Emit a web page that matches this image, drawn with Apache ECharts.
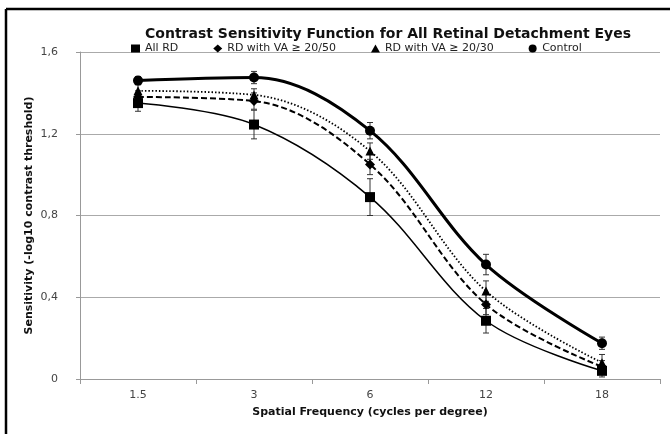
<!DOCTYPE html>
<html>
<head>
<meta charset="utf-8">
<script src="https://cdn.jsdelivr.net/npm/echarts@6/dist/echarts.min.js"></script>
<style>
html,body{margin:0;padding:0;background:#fff;}
#chart{width:670px;height:434px;}
</style>
</head>
<body>
<div id="chart"></div>
<script>
const categories = ['1.5', '3', '6', '12', '18'];
const yTicks = [0, 0.4, 0.8, 1.2, 1.6];
const seriesNames = ['All RD', 'RD with VA \u2265 20/50', 'RD with VA \u2265 20/30', 'Control'];
const allRD = [1.35, 1.245, 0.89, 0.285, 0.04];
const rd2050 = [1.38, 1.36, 1.05, 0.365, 0.06];
const rd2030 = [1.41, 1.39, 1.115, 0.43, 0.08];
const control = [1.46, 1.475, 1.215, 0.56, 0.175];
const errAllRD = [0.04, 0.07, 0.09, 0.06, 0.03];
const err2050 = [0.03, 0.04, 0.05, 0.05, 0.03];
const err2030 = [0.03, 0.03, 0.04, 0.05, 0.04];
const errControl = [0.02, 0.03, 0.04, 0.05, 0.03];

const font = 'DejaVu Sans, Verdana, sans-serif';

function errData(vals, errs) {
  return vals.map((v, i) => [i, v - errs[i], v + errs[i]]);
}
function errSeries(vals, errs) {
  return {
    type: 'custom',
    silent: true,
    z: 1,
    data: errData(vals, errs),
    renderItem: function (params, api) {
      const x = api.value(0);
      const lo = api.coord([x, api.value(1)]);
      const hi = api.coord([x, api.value(2)]);
      const w = 3;
      const st = { stroke: '#333', lineWidth: 1 };
      return {
        type: 'group',
        children: [
          { type: 'line', shape: { x1: lo[0], y1: lo[1], x2: hi[0], y2: hi[1] }, style: st },
          { type: 'line', shape: { x1: lo[0] - w, y1: lo[1], x2: lo[0] + w, y2: lo[1] }, style: st },
          { type: 'line', shape: { x1: hi[0] - w, y1: hi[1], x2: hi[0] + w, y2: hi[1] }, style: st }
        ]
      };
    }
  };
}

const chart = echarts.init(document.getElementById('chart'));
chart.setOption({
  animation: false,
  backgroundColor: '#fff',
  title: {
    text: 'Contrast Sensitivity Function for All Retinal Detachment Eyes',
    left: 383, textAlign: 'center', top: 22,
    textStyle: { fontFamily: font, fontSize: 14, fontWeight: 'bold', color: '#111' }
  },
  legend: {
    left: 126, top: 38,
    itemWidth: 9, itemHeight: 8, itemGap: 35,
    textStyle: { fontFamily: font, fontSize: 11, color: '#222' },
    data: [
      { name: seriesNames[0], icon: 'rect' },
      { name: seriesNames[1], icon: 'diamond' },
      { name: seriesNames[2], icon: 'triangle' },
      { name: seriesNames[3], icon: 'circle' }
    ]
  },
  grid: { left: 80, right: 10, top: 52, bottom: 55 },
  xAxis: {
    type: 'category',
    data: categories,
    boundaryGap: true,
    name: 'Spatial Frequency (cycles per degree)',
    nameLocation: 'middle', nameGap: 28, nameMoveOverlap: false,
    nameTextStyle: { fontFamily: font, fontSize: 11, fontWeight: 'bold', color: '#111' },
    axisLine: { lineStyle: { color: '#999', width: 1 } },
    axisTick: { show: true, length: 5, lineStyle: { color: '#999' } },
    axisLabel: { fontFamily: font, fontSize: 11, color: '#444', margin: 11 }
  },
  yAxis: {
    type: 'value', min: 0, max: 1.6, interval: 0.4,
    name: 'Sensitivity (-log10 contrast threshold)',
    nameLocation: 'middle', nameGap: 45, nameMoveOverlap: false,
    nameTextStyle: { fontFamily: font, fontSize: 11, fontWeight: 'bold', color: '#111' },
    axisLine: { show: true, lineStyle: { color: '#999' } },
    axisTick: { show: true, length: 4, inside: false, lineStyle: { color: '#999' } },
    axisLabel: {
      fontFamily: font, fontSize: 11, color: '#444', margin: 22,
      formatter: v => (yTicks.indexOf(+v.toFixed(1)) >= 0 ? (v === 0 ? '0' : v.toFixed(1).replace('.', ',')) : '')
    },
    splitLine: { show: true, lineStyle: { color: '#aaa', width: 1 } }
  },
  graphic: [
    { type: 'line', shape: { x1: 6, y1: 9, x2: 670, y2: 9 }, style: { stroke: '#000', lineWidth: 2.5 } },
    { type: 'line', shape: { x1: 6, y1: 9, x2: 6, y2: 434 }, style: { stroke: '#000', lineWidth: 2.5 } }
  ],
  series: [
    errSeries(allRD, errAllRD),
    errSeries(rd2050, err2050),
    errSeries(rd2030, err2030),
    errSeries(control, errControl),
    {
      name: seriesNames[0], type: 'line', data: allRD, smooth: 0.35,
      symbol: 'rect', symbolSize: 10, z: 3,
      lineStyle: { color: '#000', width: 1.5 }, itemStyle: { color: '#000' }
    },
    {
      name: seriesNames[1], type: 'line', data: rd2050, smooth: 0.35,
      symbol: 'diamond', symbolSize: 10, z: 3,
      lineStyle: { color: '#000', width: 2, type: [6, 3] }, itemStyle: { color: '#000' }
    },
    {
      name: seriesNames[2], type: 'line', data: rd2030, smooth: 0.35,
      symbol: 'triangle', symbolSize: 9, z: 3,
      lineStyle: { color: '#000', width: 1.8, type: [1.5, 2] }, itemStyle: { color: '#000' }
    },
    {
      name: seriesNames[3], type: 'line', data: control, smooth: 0.35,
      symbol: 'circle', symbolSize: 10, z: 3,
      lineStyle: { color: '#000', width: 3 }, itemStyle: { color: '#000' }
    }
  ]
});
</script>
</body>
</html>
